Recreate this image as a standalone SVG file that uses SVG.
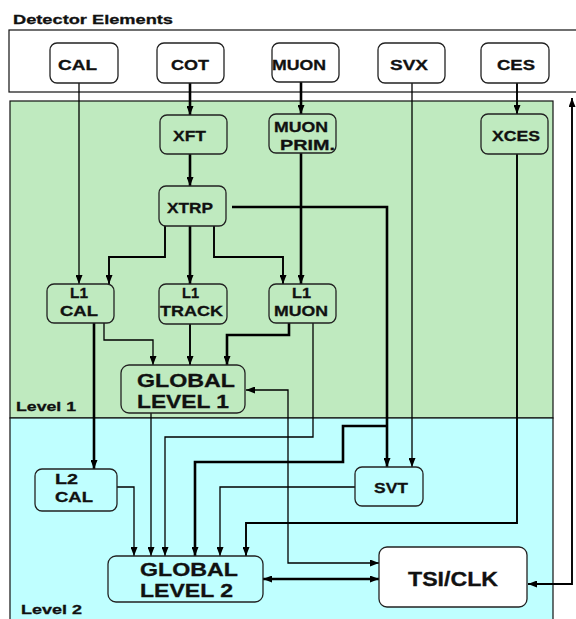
<svg xmlns="http://www.w3.org/2000/svg" width="576" height="619" viewBox="0 0 576 619">
<defs>
<marker id="ah" viewBox="0 0 9 7" refX="9" refY="3.5" markerWidth="9" markerHeight="7" markerUnits="userSpaceOnUse" orient="auto-start-reverse">
<path d="M0,0 L9,3.5 L0,7 z" fill="#000"/>
</marker>
</defs>
<style>
.box{stroke:#222;stroke-width:1.3}
.w{fill:#fff}
.g{fill:#bfeabf}
.c{fill:#bfffff}
text{font-family:"Liberation Sans",Arial,sans-serif;font-weight:bold;fill:#111;stroke:#111;stroke-width:0.3}
.n{font-size:15px}
.big{font-size:18px}
.lbl{font-size:13px}
.ln{fill:none;stroke:#000;stroke-width:1.3}
.tk{fill:none;stroke:#000;stroke-width:2.6}
.md{fill:none;stroke:#000;stroke-width:1.9}
.a{marker-end:url(#ah)}
.b{marker-start:url(#ah);marker-end:url(#ah)}
</style>
<rect x="0" y="0" width="576" height="619" fill="#fff"/>
<g id="regions">
<rect x="9" y="30" width="580" height="62" fill="#fff" stroke="#111" stroke-width="1.2"/>
<rect x="10" y="101" width="543" height="317" fill="#bfeabf" stroke="#111" stroke-width="1.2"/>
<rect x="10" y="418" width="543" height="210" fill="#bfffff" stroke="#111" stroke-width="1.2"/>
<text class="lbl" x="13" y="24" textLength="160" lengthAdjust="spacingAndGlyphs">Detector Elements</text>
<text class="lbl" x="16" y="411" textLength="60" lengthAdjust="spacingAndGlyphs">Level 1</text>
<text class="lbl" x="21" y="614" textLength="61" lengthAdjust="spacingAndGlyphs">Level 2</text>
</g>
<g id="connectors">
<path class="ln a" d="M79,83 V284"/>
<path class="tk a" d="M190,83 V115"/>
<path class="tk a" d="M301,82 V114"/>
<path class="ln a" d="M412,83 V467"/>
<path class="md a" d="M517,83 V114"/>
<path class="tk a" d="M190,154 V186"/>
<path class="md a" d="M165,226 V257 H109 V284"/>
<path class="tk a" d="M190,226 V284"/>
<path class="md a" d="M214,226 V257 H283 V284"/>
<path class="tk a" d="M301,153 V284"/>
<path class="tk a" d="M232,207 H387 V467"/>
<path class="tk a" d="M387,426 H343 V462 H195 V556"/>
<path class="tk a" d="M94,323 V469"/>
<path class="ln a" d="M104,323 V340 H153 V365"/>
<path class="md a" d="M190,324 V365"/>
<path class="tk a" d="M289,323 V335 H227 V365"/>
<path class="ln a" d="M313,323 V437 H165 V556"/>
<path class="ln a" d="M151,413 V556"/>
<path class="ln a" d="M117,487 H134 V556"/>
<path class="ln a" d="M355,487 H220 V556"/>
<path class="md a" d="M517,154 V523 H246 V556"/>
<path class="ln b" d="M246,390 H288 V563 H379"/>
<path class="tk b" d="M263,579 H379"/>
<path class="md b" d="M528,584 H572 V98"/>
</g>
<g id="CAL"><rect class="box w" x="50" y="43" width="68" height="40" rx="7"/><text class="n" x="58" y="70" textLength="39" lengthAdjust="spacingAndGlyphs">CAL</text></g>
<g id="COT"><rect class="box w" x="157" y="43" width="67" height="40" rx="7"/><text class="n" x="171" y="70" textLength="38" lengthAdjust="spacingAndGlyphs">COT</text></g>
<g id="MUON"><rect class="box w" x="272" y="43" width="67" height="39" rx="7"/><text class="n" x="272" y="70" textLength="54" lengthAdjust="spacingAndGlyphs">MUON</text></g>
<g id="SVX"><rect class="box w" x="378" y="43" width="67" height="40" rx="7"/><text class="n" x="390" y="70" textLength="38" lengthAdjust="spacingAndGlyphs">SVX</text></g>
<g id="CES"><rect class="box w" x="481" y="43" width="68" height="40" rx="7"/><text class="n" x="497" y="70" textLength="38" lengthAdjust="spacingAndGlyphs">CES</text></g>
<g id="XFT"><rect class="box g" x="160" y="115" width="67" height="39" rx="7"/><text class="n" x="173" y="141" textLength="33" lengthAdjust="spacingAndGlyphs">XFT</text></g>
<g id="MUONPRIM"><rect class="box g" x="269" y="114" width="67" height="39" rx="7"/><text class="n" x="274" y="132" textLength="54" lengthAdjust="spacingAndGlyphs">MUON</text><text class="n" x="280" y="150" textLength="55" lengthAdjust="spacingAndGlyphs">PRIM.</text></g>
<g id="XCES"><rect class="box g" x="481" y="114" width="67" height="40" rx="7"/><text class="n" x="492" y="141" textLength="48" lengthAdjust="spacingAndGlyphs">XCES</text></g>
<g id="XTRP"><rect class="box g" x="159" y="186" width="67" height="40" rx="7"/><text class="n" x="167" y="213" textLength="46" lengthAdjust="spacingAndGlyphs">XTRP</text></g>
<g id="L1CAL"><rect class="box g" x="47" y="284" width="67" height="39" rx="7"/><text class="n" x="70" y="298" textLength="18" lengthAdjust="spacingAndGlyphs">L1</text><text class="n" x="60" y="316" textLength="38" lengthAdjust="spacingAndGlyphs">CAL</text></g>
<g id="L1TRACK"><rect class="box g" x="159" y="284" width="68" height="40" rx="7"/><text class="n" x="182" y="298" textLength="17" lengthAdjust="spacingAndGlyphs">L1</text><text class="n" x="160" y="316" textLength="63" lengthAdjust="spacingAndGlyphs">TRACK</text></g>
<g id="L1MUON"><rect class="box g" x="269" y="284" width="67" height="39" rx="7"/><text class="n" x="292" y="298" textLength="19" lengthAdjust="spacingAndGlyphs">L1</text><text class="n" x="274" y="316" textLength="54" lengthAdjust="spacingAndGlyphs">MUON</text></g>
<g id="GL1"><rect class="box g" x="121" y="365" width="124" height="48" rx="8"/><text class="big" x="137" y="387" textLength="98" lengthAdjust="spacingAndGlyphs">GLOBAL</text><text class="big" x="137" y="408" textLength="92" lengthAdjust="spacingAndGlyphs">LEVEL 1</text></g>
<g id="L2CAL"><rect class="box c" x="35" y="469" width="82" height="42" rx="7"/><text class="n" x="55" y="484" textLength="23" lengthAdjust="spacingAndGlyphs">L2</text><text class="n" x="55" y="502" textLength="38" lengthAdjust="spacingAndGlyphs">CAL</text></g>
<g id="SVT"><rect class="box c" x="355" y="467" width="68" height="39" rx="7"/><text class="n" x="374" y="493" textLength="34" lengthAdjust="spacingAndGlyphs">SVT</text></g>
<g id="GL2"><rect class="box c" x="108" y="556" width="155" height="46" rx="8"/><text class="big" x="140" y="576" textLength="98" lengthAdjust="spacingAndGlyphs">GLOBAL</text><text class="big" x="140" y="597" textLength="93" lengthAdjust="spacingAndGlyphs">LEVEL 2</text></g>
<g id="TSICLK"><rect class="box w" x="379" y="547" width="148" height="60" rx="8"/><text x="408" y="586" font-size="20" textLength="90" lengthAdjust="spacingAndGlyphs">TSI/CLK</text></g>
</svg>
